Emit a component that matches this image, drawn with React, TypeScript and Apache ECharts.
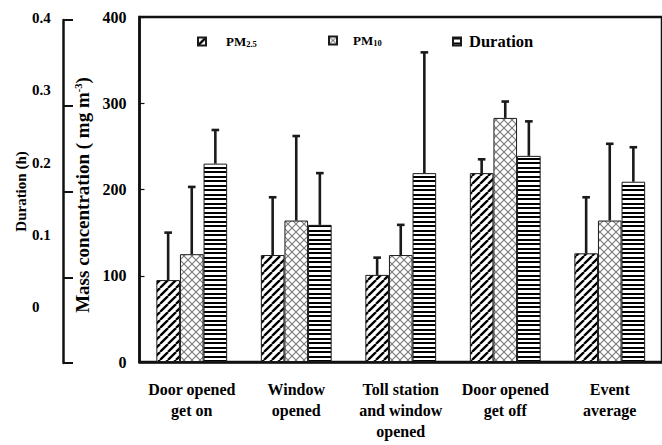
import React, { useEffect, useRef } from 'react';
import * as echarts from 'echarts';

const categories = [
  'Door opened\nget on',
  'Window\nopened',
  'Toll station\nand window\nopened',
  'Door opened\nget off',
  'Event\naverage',
];
const pm25 = [95, 124, 101, 219, 126];
const pm25Err = [150, 191, 121, 235, 191];
const pm10 = [125, 164, 124, 283, 164];
const pm10Err = [203, 262, 159, 302, 253];
const duration = [230, 159, 219, 239, 209];
const durationErr = [269, 219, 359, 279, 249];
const durationTickLabels = ['0', '0.1', '0.2', '0.3', '0.4'];

const FONT = "'Liberation Serif', 'Times New Roman', serif";
const BAR_W = 23.6;

function makeCanvas(w: number, h: number) {
  const c = document.createElement('canvas');
  c.width = w;
  c.height = h;
  const ctx = c.getContext('2d')!;
  ctx.fillStyle = '#fff';
  ctx.fillRect(0, 0, w, h);
  return { c, ctx };
}

function diagPattern() {
  const s = 8;
  const { c, ctx } = makeCanvas(s, s);
  ctx.strokeStyle = '#000';
  ctx.lineWidth = 2.3;
  for (const k of [-1, 0, 1]) {
    ctx.beginPath();
    ctx.moveTo(k * s, s);
    ctx.lineTo(k * s + s, 0);
    ctx.stroke();
  }
  return c;
}

function crossPattern() {
  const s = 8;
  const { c, ctx } = makeCanvas(s, s);
  ctx.strokeStyle = '#7a7a7a';
  ctx.lineWidth = 1.1;
  for (const k of [-1, 0, 1]) {
    ctx.beginPath();
    ctx.moveTo(k * s, s);
    ctx.lineTo(k * s + s, 0);
    ctx.stroke();
    ctx.beginPath();
    ctx.moveTo(k * s, 0);
    ctx.lineTo(k * s + s, s);
    ctx.stroke();
  }
  return c;
}

function horizPattern() {
  const { c, ctx } = makeCanvas(4, 9);
  ctx.fillStyle = '#000';
  ctx.fillRect(0, 0, 4, 2);
  ctx.fillRect(0, 5, 4, 2);
  return c;
}

export default function App() {
  const ref = useRef<HTMLDivElement>(null);

  useEffect(() => {
    if (!ref.current) return;
    const chart = echarts.init(ref.current, null, { renderer: 'svg' });

    const patterns = [diagPattern(), crossPattern(), horizPattern()];
    const names = ['PM2.5', 'PM10', 'Duration'];
    const values = [pm25, pm10, duration];
    const errs = [pm25Err, pm10Err, durationErr];

    const barSeries = names.map((n, j) => ({
      name: n,
      type: 'bar',
      xAxisIndex: 0,
      yAxisIndex: 0,
      barWidth: BAR_W,
      barGap: '0%',
      data: values[j],
      itemStyle: {
        color: { image: patterns[j], repeat: 'repeat' },
        borderColor: '#1a1a1a',
        borderWidth: 1,
      },
      z: 2,
    }));

    const errData: number[][] = [];
    names.forEach((_, j) => {
      values[j].forEach((v, i) => errData.push([i, v, errs[j][i], j]));
    });

    const errSeries = {
      name: 'errors',
      type: 'custom',
      xAxisIndex: 0,
      yAxisIndex: 0,
      data: errData,
      encode: { x: 0, y: 1 },
      z: 5,
      renderItem: (params: any, api: any) => {
        const cat = api.value(0);
        const top = api.value(1);
        const err = api.value(2);
        const idx = api.value(3);
        const p0 = api.coord([cat, top]);
        const p1 = api.coord([cat, err]);
        const x = p0[0] + (idx - 1) * BAR_W;
        return {
          type: 'group',
          children: [
            {
              type: 'line',
              shape: { x1: x, y1: p0[1], x2: x, y2: p1[1] },
              style: { stroke: '#1a1a1a', lineWidth: 2.6 },
            },
            {
              type: 'line',
              shape: { x1: x - 3.8, y1: p1[1], x2: x + 3.8, y2: p1[1] },
              style: { stroke: '#1a1a1a', lineWidth: 2.6 },
            },
          ],
        };
      },
    };

    const legendBase = {
      orient: 'horizontal',
      icon: 'rect',
      itemWidth: 8,
      itemHeight: 8,
      padding: 0,
      selectedMode: false,
    };

    const option: any = {
      animation: false,
      backgroundColor: '#fff',
      textStyle: { fontFamily: FONT },
      legend: [
        {
          ...legendBase,
          data: ['PM2.5'],
          left: 197,
          top: 35,
          formatter: () => '{n|PM}{s|2.5}',
          textStyle: {
            padding: [0, 0, 0, 15],
            rich: {
              n: { fontSize: 13, fontWeight: 'bold', fontFamily: FONT, color: '#000' },
              s: { fontSize: 8.5, fontWeight: 'bold', fontFamily: FONT, color: '#000', verticalAlign: 'bottom' },
            },
          },
        },
        {
          ...legendBase,
          data: ['PM10'],
          left: 328,
          top: 34,
          formatter: () => '{n|PM}{s|10}',
          textStyle: {
            padding: [0, 0, 0, 11],
            rich: {
              n: { fontSize: 13, fontWeight: 'bold', fontFamily: FONT, color: '#000' },
              s: { fontSize: 8.5, fontWeight: 'bold', fontFamily: FONT, color: '#000', verticalAlign: 'bottom' },
            },
          },
        },
        {
          ...legendBase,
          data: ['Duration'],
          left: 452,
          top: 33,
          textStyle: {
            padding: [0, 0, 0, 3],
            fontSize: 16.5,
            fontWeight: 'bold',
            fontFamily: FONT,
            color: '#000',
          },
        },
      ],
      grid: [
        {
          left: 139.5,
          top: 17,
          width: 530,
          height: 345,
          show: true,
          borderColor: '#111',
          borderWidth: 2.5,
        },
        { left: 63, top: 20, width: 10, height: 343 },
        { left: 40, top: 18, width: 10, height: 289 },
      ],
      xAxis: [
        {
          type: 'category',
          gridIndex: 0,
          data: categories,
          axisLine: { onZero: false, lineStyle: { color: '#111', width: 2.5 } },
          axisTick: { inside: true, length: 5, lineStyle: { color: '#111', width: 1.2 } },
          axisLabel: {
            interval: 0,
            margin: 17,
            fontSize: 16,
            fontWeight: 'bold',
            fontFamily: FONT,
            color: '#000',
            lineHeight: 21,
          },
        },
        { type: 'value', gridIndex: 1, show: false, min: 0, max: 1 },
        { type: 'value', gridIndex: 2, show: false, min: 0, max: 1 },
      ],
      yAxis: [
        {
          type: 'value',
          gridIndex: 0,
          min: 0,
          max: 400,
          interval: 100,
          axisLine: { show: true, onZero: false, lineStyle: { color: '#111', width: 2.5 } },
          axisTick: { show: true, inside: true, length: 5, lineStyle: { color: '#111', width: 1.2 } },
          splitLine: { show: false },
          axisLabel: {
            margin: 13,
            fontSize: 16,
            fontWeight: 'bold',
            fontFamily: FONT,
            color: '#000',
          },
          name: '{a|Mass concentration ( mg m}{b|-3}{a|)}',
          nameLocation: 'middle',
          nameRotate: 90,
          nameGap: 42,
          nameTextStyle: {
            padding: [0, 11, 0, 0],
            rich: {
              a: { fontSize: 19, fontWeight: 'bold', fontFamily: FONT, color: '#000' },
              b: { fontSize: 10.5, fontWeight: 'bold', fontFamily: FONT, color: '#000', verticalAlign: 'top' },
            },
          },
        },
        {
          type: 'value',
          gridIndex: 1,
          min: 0,
          max: 0.4,
          interval: 0.1,
          axisLine: { show: true, onZero: false, lineStyle: { color: '#111', width: 2.5 } },
          axisTick: { show: true, inside: true, length: 10, lineStyle: { color: '#111', width: 2 } },
          axisLabel: { show: false },
          splitLine: { show: false },
          name: 'Duration (h)',
          nameLocation: 'middle',
          nameRotate: 90,
          nameGap: 35,
          nameTextStyle: { fontSize: 15, fontWeight: 'bold', fontFamily: FONT, color: '#000' },
        },
        {
          type: 'value',
          gridIndex: 2,
          min: 0,
          max: 0.4,
          interval: 0.1,
          axisLine: { show: false },
          axisTick: { show: false },
          splitLine: { show: false },
          axisLabel: {
            align: 'left',
            margin: 8,
            fontSize: 15,
            fontWeight: 'bold',
            fontFamily: FONT,
            color: '#000',
            formatter: (_v: number, i: number) => durationTickLabels[i],
          },
        },
      ],
      series: [...barSeries, errSeries],
    };

    chart.setOption(option);
    return () => chart.dispose();
  }, []);

  return (
    <div
      ref={ref}
      style={{ position: 'fixed', left: 0, top: 0, width: 662, height: 445, background: '#fff' }}
    />
  );
}
